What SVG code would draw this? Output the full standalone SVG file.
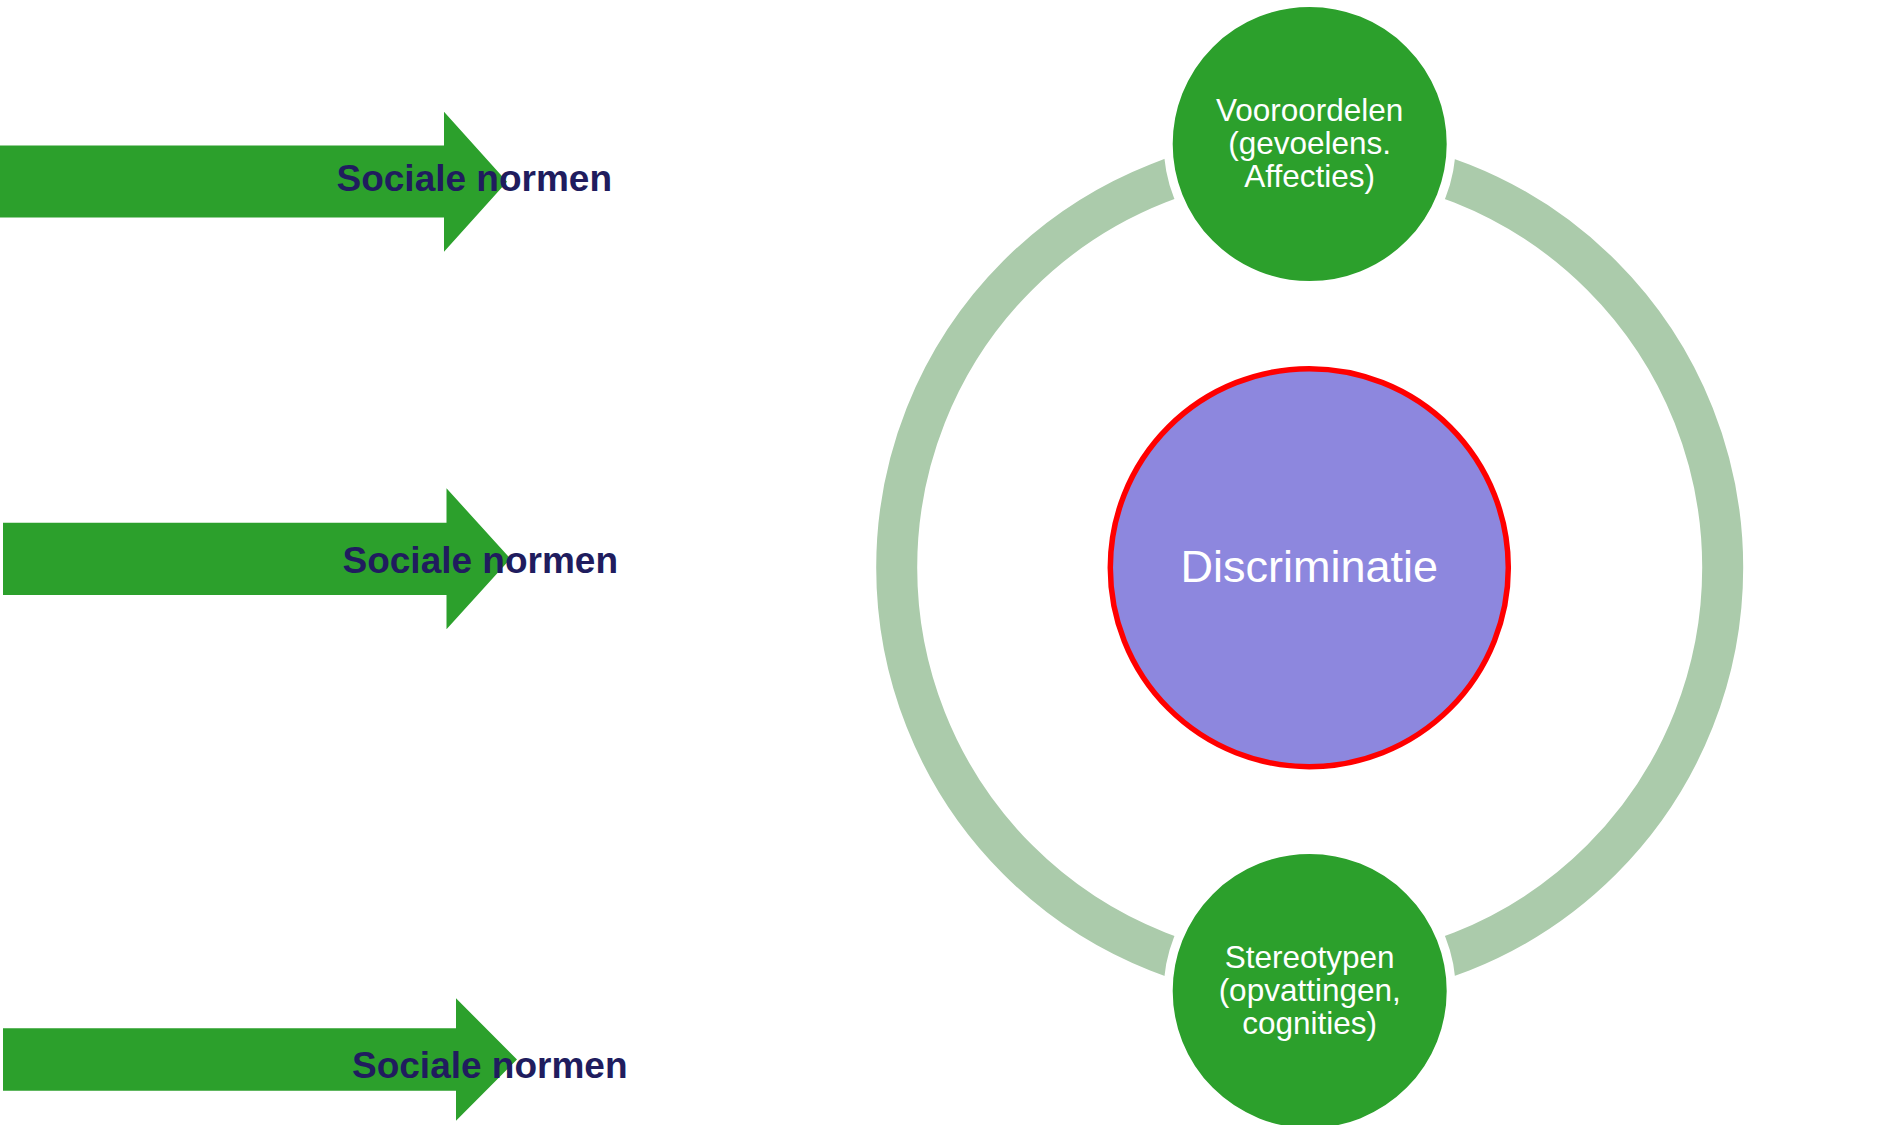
<svg xmlns="http://www.w3.org/2000/svg" width="1884" height="1125" viewBox="0 0 1884 1125">
<style>
.arrow{fill:#2ca02c}
.alabel{font-family:"Liberation Sans",Arial,sans-serif;font-weight:bold;font-size:37px;fill:#201c5e}
.ring{fill:none;stroke:#abcbab;stroke-width:41}
.node{fill:#2ca02c;stroke:#ffffff;stroke-width:9}
.ntext{font-family:"Liberation Sans",Arial,sans-serif;font-size:31.5px;fill:#ffffff;text-anchor:middle}
.ctext{font-family:"Liberation Sans",Arial,sans-serif;font-size:45px;fill:#ffffff;text-anchor:middle}
</style>
<rect width="1884" height="1125" fill="#ffffff"/>
<g id="arrow1">
<polygon class="arrow" points="0,145.5 444,145.5 444,111.7 507,181.7 444,251.7 444,217.5 0,217.5"/>
<text class="alabel" x="336.5" y="190.5">Sociale normen</text>
</g>
<g id="arrow2">
<polygon class="arrow" points="3,522.7 446.5,522.7 446.5,488.3 510.5,558.8 446.5,629.3 446.5,595 3,595"/>
<text class="alabel" x="342.5" y="573.3">Sociale normen</text>
</g>
<g id="arrow3">
<polygon class="arrow" points="3,1028.3 456,1028.3 456,998.3 517,1059.5 456,1120.7 456,1090.7 3,1090.7"/>
<text class="alabel" x="352" y="1078.3">Sociale normen</text>
</g>
<g id="connectors">
<path class="ring" d="M1309.7,154.5 A413,413 0 0 0 1309.7,980.5"/>
<path class="ring" d="M1309.7,154.5 A413,413 0 0 1 1309.7,980.5"/>
</g>
<g id="center">
<circle cx="1309.3" cy="567.7" r="199" fill="#8d87de" stroke="#ff0000" stroke-width="5.5"/>
<text class="ctext" x="1309.3" y="581.7">Discriminatie</text>
</g>
<g id="vooroordelen">
<circle class="node" cx="1309.7" cy="144" r="141.5"/>
<text class="ntext" x="1309.7" y="120.5">Vooroordelen</text>
<text class="ntext" x="1309.7" y="153.5">(gevoelens.</text>
<text class="ntext" x="1309.7" y="186.5">Affecties)</text>
</g>
<g id="stereotypen">
<circle class="node" cx="1309.7" cy="991" r="141.5"/>
<text class="ntext" x="1309.7" y="967.5">Stereotypen</text>
<text class="ntext" x="1309.7" y="1000.5">(opvattingen,</text>
<text class="ntext" x="1309.7" y="1033.5">cognities)</text>
</g>
</svg>
